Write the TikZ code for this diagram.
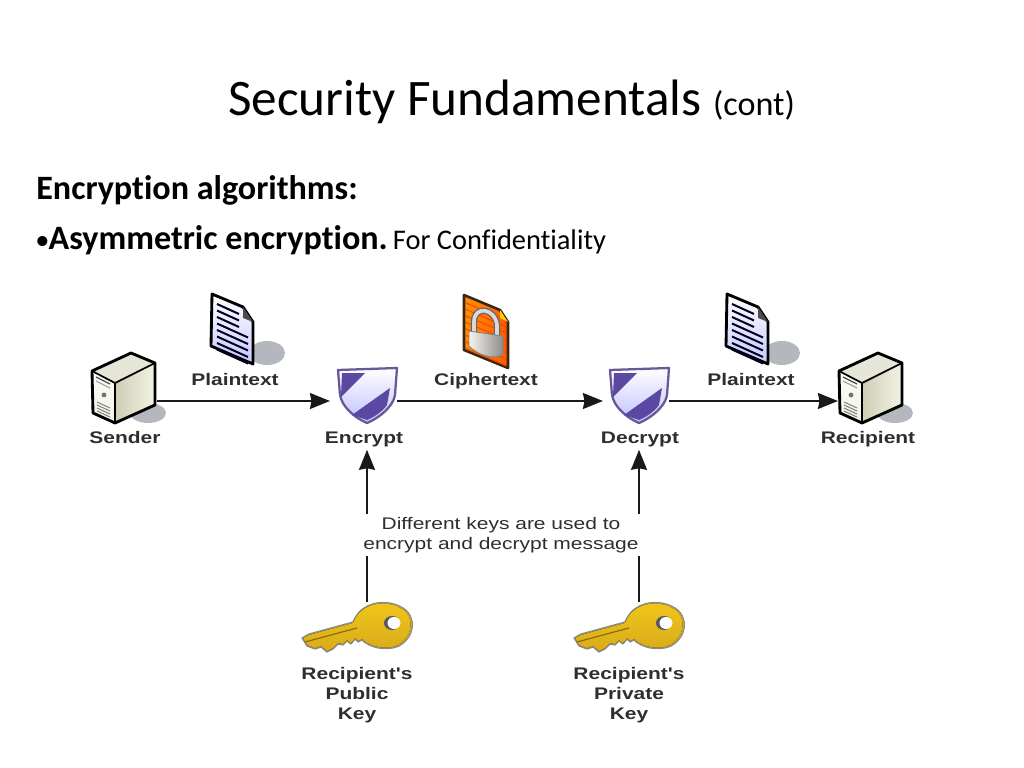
\documentclass[tikz,border=0pt]{standalone}
\usepackage{fontspec}
\usetikzlibrary{arrows.meta}
\setmainfont[Ligatures=NoCommon]{Carlito}
\newfontfamily\lblfont[FakeStretch=1.25]{Liberation Sans}
\definecolor{shieldpurple}{HTML}{5B48A2}
\definecolor{keygold}{HTML}{F0BE1E}
\definecolor{docshadow}{HTML}{B4B8BE}
\definecolor{lbltext}{HTML}{2E2E2E}
\definecolor{servercream}{HTML}{F2F2E4}
\definecolor{serverdark}{HTML}{CFCFB6}
\tikzset{
  iconbox/.style={inner sep=0pt, outer sep=0pt},
  lbl/.style={font=\lblfont\fontsize{11.8}{14}\selectfont\bfseries, text=lbltext, inner sep=0pt, align=center},
  notelbl/.style={font=\lblfont\fontsize{11.8}{14.1}\selectfont, text=lbltext, inner sep=0pt, align=center},
  flow/.style={-{Stealth[length=14pt,width=11pt,inset=1pt]}, line width=2pt, black!90},
  feed/.style={line width=2pt, black!90},
  pics/servericon/.style={code={
    \fill[docshadow] (23,12) ellipse (18 and 10);
    \path[top color=white, bottom color=servercream] (6,-48) -- (30,-38) -- (30,4) -- (-10,22) -- (-32,12) -- (-33,-30) -- cycle;
    \fill[left color=serverdark, right color=servercream] (-9,-17) -- (29,-37) -- (29,3) -- (-9,21) -- cycle;
    \fill[servercream!95!black] (-33,-30) -- (6,-48) -- (30,-38) -- (-10,-18) -- cycle;
    \draw[black, line width=2pt, line join=round] (6,-48) -- (30,-38) -- (30,4) -- (-10,22) -- (-32,12) -- (-33,-30) -- cycle;
    \draw[black, line width=1.2pt, line join=round] (-33,-30) -- (-10,-18) -- (30,-38) (-10,-18) -- (-10,22);
    \draw[black!70, line width=0.8pt] (-29,-24) -- (-15,-17);
    \draw[black!35, line width=0.8pt] (-29,-20) -- (-15,-13);
    \fill[black!55] (-21,-6) circle (2.4);
    \foreach \i in {0,1,2,3}{\draw[black!50, line width=0.7pt] (-28,1+\i*3) -- (-15,7+\i*3);}
  }},
  pics/docicon/.style={code={
    \fill[docshadow] (35,24) ellipse (18 and 12);
    \draw[black, line width=2pt, line join=round, top color=white, bottom color=blue!22] (-20,-35) -- (11,-22) -- (21,-7) -- (21,35) -- (-21,17) -- cycle;
    \fill[black!70] (11,-22) -- (21,-7) -- (11,-11) -- cycle;
    \foreach \i in {0,1,2}{\draw[blue!12!black, line width=1.4pt] (-15,-25+\i*6.5) -- (7,-15+\i*6.5);}
    \foreach \i in {3,4,5,6,7}{\draw[blue!12!black, line width=1.4pt] (-15,-25+\i*6.5) -- (16,-11+\i*6.5);}
  }},
  pics/lockicon/.style={code={
    \draw[black!70!brown, line width=1.8pt, line join=round, left color=orange!85!yellow, right color=orange!70!red] (-22,-36) -- (14,-21) -- (22,-9) -- (22,37) -- (-22,19) -- cycle;
    \foreach \i in {0,...,7}{\draw[orange!55!red, line width=0.8pt] (-20,-28+\i*6.5) -- (20,-11+\i*6.5);}
    \fill[yellow!70!orange] (14,-21) -- (22,-9) -- (14,-13) -- cycle;
    \draw[black!60, line width=4.4pt] (-12,4) -- (-12,-9) .. controls (-12,-26) and (9,-23) .. (11,-6) -- (11,8);
    \draw[white!85!black, line width=2.6pt] (-12,4) -- (-12,-9) .. controls (-12,-26) and (9,-23) .. (11,-6) -- (11,8);
    \draw[black!50, line width=0.6pt, left color=white!90!brown, right color=black!45] (-17,0) -- (17,5) -- (17,24) .. controls (6,29) and (-8,24) .. (-17,15) -- cycle;
  }},
  pics/shieldicon/.style={code={
    \draw[shieldpurple!70!gray, line width=1.6pt, line join=round, top color=white, bottom color=blue!25!white] (-29,-31) -- (30,-33) -- (28,-6) .. controls (26,6) and (12,17) .. (0,22) .. controls (-12,17) and (-25,6) .. (-27,-6) -- cycle;
    \fill[shieldpurple] (-25,-28) -- (-2,-28) -- (-26,-4) -- cycle;
    \fill[shieldpurple] (23,-13) -- (20,4) .. controls (15,11) and (7,16) .. (0,19) -- (-15,14) -- cycle;
  }},
  pics/keyicon/.style={code={
    \fill[draw=black!45, line width=0.9pt, top color=keygold!85!yellow, bottom color=keygold!90!black] (-55,13) -- (-48,9) -- (-4,-3) .. controls (4,-24) and (30,-27) .. (46,-17) .. controls (60,-8) and (58,12) .. (42,21) .. controls (28,27) and (12,22) .. (5,15) -- (1,17) -- (-2,14) -- (-6,19) -- (-10,16) -- (-14,20) -- (-19,19) -- (-24,24) -- (-30,27) -- (-36,22) -- (-42,24) -- (-50,21) -- cycle;
    \fill[top color=keygold!85!yellow, bottom color=keygold!90!black] (-54,13) -- (-48,10) -- (-4,-2) .. controls (4,-23) and (30,-26) .. (45,-16) .. controls (58,-8) and (56,11) .. (41,20) .. controls (28,26) and (12,21) .. (5,14) -- (1,16) -- (-2,13) -- (-6,18) -- (-10,15) -- (-14,19) -- (-19,18) -- (-24,23) -- (-30,26) -- (-36,21) -- (-42,23) -- (-50,20) -- cycle;
    \draw[keygold!55!black, line width=0.8pt] (-52,17) -- (0,3);
    \fill[black!65] (35,-2) ellipse (8 and 7);
    \fill[white] (37,-2) ellipse (6.5 and 6);
  }},
}
\begin{document}
\begin{tikzpicture}[x=0.703125pt,y=-0.703125pt,line join=round,line cap=butt]
\useasboundingbox (0,0) rectangle (1024,768);
% heading
\node[inner sep=0pt] (title) at (511.5,102) {\fontsize{36}{42}\selectfont Security Fundamentals \fontsize{24}{28}\selectfont(cont)};
\node[anchor=base west,inner sep=0pt] (subhead) at (36,200) {\fontsize{24}{28}\selectfont\bfseries Encryption algorithms:};
\node[anchor=base west,inner sep=0pt] (bullet) at (35,250) {\fontsize{24}{28}\selectfont{\mdseries\fontsize{20}{24}\selectfont\textbullet}\hspace{-0.6pt}\bfseries Asymmetric encryption.\hspace{3.6pt}\mdseries\fontsize{20}{24}\selectfont For Confidentiality};
% icon holders
\foreach \x/\w/\n in {125/64/sender,367/60/encrypt,639/60/decrypt,872/64/recipient}{\node[iconbox,minimum width=\w*0.703125pt,minimum height=40pt] (\n) at (\x,401) {};}
\foreach \x/\n in {357/pubkey,629/privkey}{\node[iconbox,minimum width=77pt,minimum height=32pt] (\n) at (\x,625) {};}
\foreach \x/\y/\n in {232/329/docleft,486/331/docmid,747/329/docright}{\node[iconbox] (\n) at (\x,\y) {};}
\pic at (sender) {servericon};
\pic at (recipient) {servericon};
\pic at (encrypt) {shieldicon};
\pic at (decrypt) {shieldicon};
\pic at (docleft) {docicon};
\pic at (docmid) {lockicon};
\pic at (docright) {docicon};
\pic at (pubkey) {keyicon};
\pic at (privkey) {keyicon};
% labels
\foreach \x/\y/\n/\l in {235/385/lblplainl/Plaintext,486/385/lblcipher/Ciphertext,751/385/lblplainr/Plaintext,125/443/lblsender/Sender,364/443/lblencrypt/Encrypt,640/443/lbldecrypt/Decrypt,868/443/lblrecipient/Recipient}{\node[lbl,anchor=base] (\n) at (\x,\y) {\l};}
\node[lbl] (lblpub) at (357,695) {Recipient's\\Public\\Key};
\node[lbl] (lblpriv) at (629,695) {Recipient's\\Private\\Key};
\node[notelbl] (note) at (501,535) {Different keys are used to\\encrypt and decrypt message};
% connectors
\draw[flow] (sender.east) -- ([xshift=-7*0.703125pt]encrypt.west);
\draw[flow] (encrypt.east) -- ([xshift=-6*0.703125pt]decrypt.west);
\draw[flow] (decrypt.east) -- ([xshift=-2*0.703125pt]recipient.west);
\draw[flow] (encrypt |- note.north) ++(0,-3) -- ([yshift=-3*0.703125pt]encrypt |- lblencrypt.south);
\draw[flow] (decrypt |- note.north) ++(0,-3) -- ([yshift=-3*0.703125pt]decrypt |- lbldecrypt.south);
\draw[feed] (encrypt |- pubkey.north) -- ([yshift=-3*0.703125pt]encrypt |- note.south);
\draw[feed] (decrypt |- privkey.north) -- ([yshift=-3*0.703125pt]decrypt |- note.south);
\end{tikzpicture}
\end{document}
